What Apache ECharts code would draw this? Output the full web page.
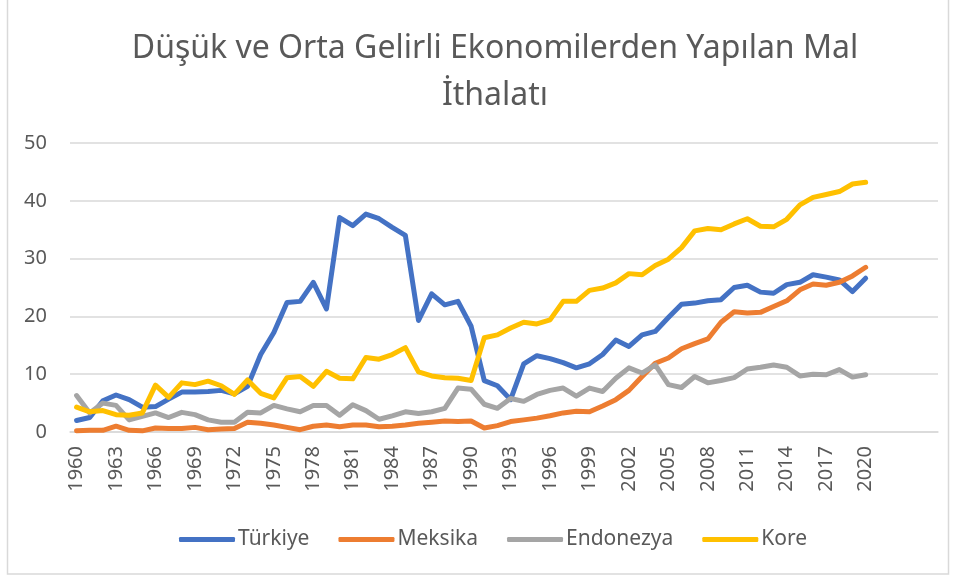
<!DOCTYPE html>
<html>
<head>
<meta charset="utf-8">
<script src="https://cdn.jsdelivr.net/npm/echarts@6/dist/echarts.min.js"></script>
<style>
  html, body { margin: 0; padding: 0; background: #fff; }
  #chart { width: 956px; height: 579px; }
</style>
</head>
<body>
<div id="chart"></div>
<script>
// yıllar
const years = [];
for (let y = 1960; y <= 2020; y++) years.push(String(y));
// excel ekseninde sağda boş kalan kategoriler
const emptySlots = ['', '', '', '', ''];
const categories = years.concat(emptySlots);

const seriesNames = ['Türkiye', 'Meksika', 'Endonezya', 'Kore'];
const colors = ['#4472C4', '#ED7D31', '#A5A5A5', '#FFC000'];

const turkiye = [
  2.0, 2.5, 5.4, 6.4, 5.6, 4.3, 4.4, 5.7, 6.9, 6.9,
  7.0, 7.2, 6.6, 7.9, 13.4, 17.2, 22.4, 22.6, 25.9, 21.3,
  37.1, 35.7, 37.7, 36.9, 35.4, 34.0, 19.3, 23.9, 22.0, 22.6,
  18.3, 8.9, 8.0, 5.6, 11.8, 13.2, 12.7, 12.0, 11.1, 11.8,
  13.4, 15.9, 14.8, 16.8, 17.4, 19.8, 22.1, 22.3, 22.7, 22.9,
  25.0, 25.4, 24.2, 24.0, 25.5, 25.9, 27.2, 26.8, 26.3, 24.3, 26.6
];
const meksika = [
  0.2, 0.3, 0.3, 1.0, 0.3, 0.2, 0.7, 0.6, 0.6, 0.8,
  0.4, 0.5, 0.6, 1.7, 1.5, 1.2, 0.8, 0.4, 1.0, 1.2,
  0.9, 1.2, 1.2, 0.9, 1.0, 1.2, 1.5, 1.7, 1.9, 1.8,
  1.9, 0.7, 1.1, 1.8, 2.1, 2.4, 2.8, 3.3, 3.6, 3.5,
  4.5, 5.6, 7.2, 9.6, 11.9, 12.8, 14.4, 15.3, 16.1, 19.0,
  20.8, 20.6, 20.7, 21.7, 22.7, 24.6, 25.6, 25.4, 25.9, 27.0, 28.5
];
const endonezya = [
  6.3, 3.3, 5.0, 4.6, 2.1, 2.7, 3.3, 2.5, 3.4, 3.0,
  2.1, 1.7, 1.7, 3.4, 3.3, 4.6, 4.0, 3.5, 4.6, 4.6,
  2.9, 4.7, 3.7, 2.2, 2.8, 3.5, 3.2, 3.5, 4.1, 7.6,
  7.4, 4.8, 4.1, 5.8, 5.3, 6.5, 7.2, 7.6, 6.2, 7.6,
  7.0, 9.3, 11.1, 10.2, 11.6, 8.2, 7.7, 9.6, 8.5, 8.9,
  9.4, 10.9, 11.2, 11.6, 11.2, 9.7, 10.0, 9.9, 10.8, 9.5, 9.9
];
const kore = [
  4.3, 3.5, 3.7, 3.0, 2.9, 3.3, 8.1, 6.0, 8.5, 8.2,
  8.8, 8.0, 6.5, 9.0, 6.7, 5.9, 9.4, 9.6, 7.9, 10.5,
  9.3, 9.2, 12.9, 12.6, 13.4, 14.6, 10.4, 9.7, 9.4, 9.3,
  8.9, 16.3, 16.8, 18.0, 19.0, 18.7, 19.4, 22.6, 22.6, 24.5,
  24.9, 25.8, 27.4, 27.2, 28.8, 29.9, 31.9, 34.8, 35.2, 35.0,
  36.0, 36.9, 35.6, 35.5, 36.8, 39.3, 40.6, 41.1, 41.6, 42.9, 43.2
];
const allData = [turkiye, meksika, endonezya, kore];

const font = "'Noto Sans', 'DejaVu Sans', sans-serif";
const textColor = '#595959';
const gridColor = '#D9D9D9';

const myChart = echarts.init(document.getElementById('chart'));

const option = {
  backgroundColor: '#fff',
  textStyle: { fontFamily: font },
  color: colors,
  title: {
    text: 'Düşük ve Orta Gelirli Ekonomilerden Yapılan Mal\nİthalatı',
    left: 490,
    top: 20,
    textAlign: 'center',
    textStyle: {
      fontFamily: font,
      fontSize: 32,
      fontWeight: 'normal',
      color: textColor,
      lineHeight: 47
    }
  },
  legend: {
    data: seriesNames,
    left: 174,
    top: 524,
    icon: 'roundRect',
    itemWidth: 56,
    itemHeight: 5,
    itemGap: 29,
    textStyle: { fontFamily: font, fontSize: 21, color: textColor, padding: [0, 0, 0, -2] }
  },
  grid: {
    left: 70,
    right: 18,
    top: 143,
    bottom: 147
  },
  xAxis: {
    type: 'category',
    data: categories,
    boundaryGap: true,
    axisTick: { show: false },
    axisLine: { lineStyle: { color: gridColor, width: 1.5 } },
    axisLabel: {
      interval: 2,
      rotate: 90,
      margin: 14,
      fontSize: 20,
      color: textColor,
      fontFamily: font
    }
  },
  yAxis: {
    type: 'value',
    min: 0,
    max: 50,
    interval: 10,
    axisLine: { show: false },
    axisTick: { show: false },
    splitLine: { lineStyle: { color: gridColor, width: 1.5 } },
    axisLabel: {
      margin: 23,
      fontSize: 20,
      color: textColor,
      fontFamily: font
    }
  },
  graphic: [
    {
      type: 'rect',
      shape: { x: 7.5, y: -2, width: 941, height: 576 },
      style: { fill: 'none', stroke: gridColor, lineWidth: 1.5 },
      silent: true
    }
  ],
  series: seriesNames.map((name, i) => ({
    name: name,
    type: 'line',
    data: allData[i],
    symbol: 'none',
    smooth: false,
    lineStyle: { width: 5, color: colors[i], cap: 'round', join: 'round' },
    itemStyle: { color: colors[i] }
  }))
};

myChart.setOption(option);
</script>
</body>
</html>
